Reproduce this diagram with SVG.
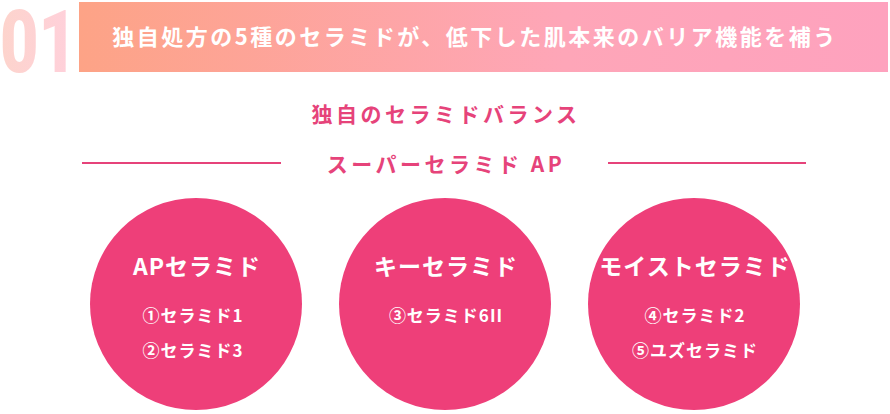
<svg xmlns="http://www.w3.org/2000/svg" width="890" height="414" viewBox="0 0 890 414">
<defs>
<linearGradient id="bn" x1="0" y1="0" x2="1" y2="0"><stop offset="0" stop-color="#fda386"/><stop offset="0.6" stop-color="#fea6b8"/><stop offset="1" stop-color="#fea2be"/></linearGradient>
<linearGradient id="num" x1="0" y1="0" x2="1" y2="0"><stop offset="0" stop-color="#fdd4cc"/><stop offset="1" stop-color="#ffd0dc"/></linearGradient>
<style>
.j{font-family:"Noto Sans CJK JP","Noto Sans",sans-serif;font-weight:bold;text-anchor:middle}
.c{fill:#ee3f79}
.w{fill:#fff}
.p{fill:#e6437a}
.t{font-size:23px;letter-spacing:1px}
.s{font-size:17px;letter-spacing:1px}
</style>
</defs>
<g id="header">
<rect x="79" y="2" width="809" height="70" fill="url(#bn)"/>
<text x="0" y="72" font-family="Roboto,'Liberation Sans',sans-serif" font-weight="900" font-size="88" fill="url(#num)" textLength="77" lengthAdjust="spacingAndGlyphs">01</text>
<text class="j w" x="475" y="45" font-size="22" letter-spacing="2.5">独自処方の5種のセラミドが、低下した肌本来のバリア機能を補う</text>
</g>
<g id="title">
<text class="j p" x="446" y="122" font-size="21" letter-spacing="3.5">独自のセラミドバランス</text>
<text class="j p" x="446" y="172" font-size="21" letter-spacing="3.5">スーパーセラミド AP</text>
</g>
<g id="connectors">
<line x1="82" y1="163" x2="281" y2="163" stroke="#e6437a" stroke-width="2"/>
<line x1="608" y1="163" x2="806" y2="163" stroke="#e6437a" stroke-width="2"/>
</g>
<g id="n1"><circle class="c" cx="196" cy="304" r="106"/>
<text class="j w t" x="197" y="275">APセラミド</text>
<text class="j w s" x="193" y="322">①セラミド1</text>
<text class="j w s" x="193" y="357">②セラミド3</text></g>
<g id="n2"><circle class="c" cx="445" cy="304" r="106"/>
<text class="j w t" x="446" y="275">キーセラミド</text>
<text class="j w s" x="446" y="322">③セラミド6II</text></g>
<g id="n3"><circle class="c" cx="694" cy="304" r="106"/>
<text class="j w t" x="695" y="275">モイストセラミド</text>
<text class="j w s" x="695" y="322">④セラミド2</text>
<text class="j w s" x="695" y="357">⑤ユズセラミド</text></g>
</svg>
